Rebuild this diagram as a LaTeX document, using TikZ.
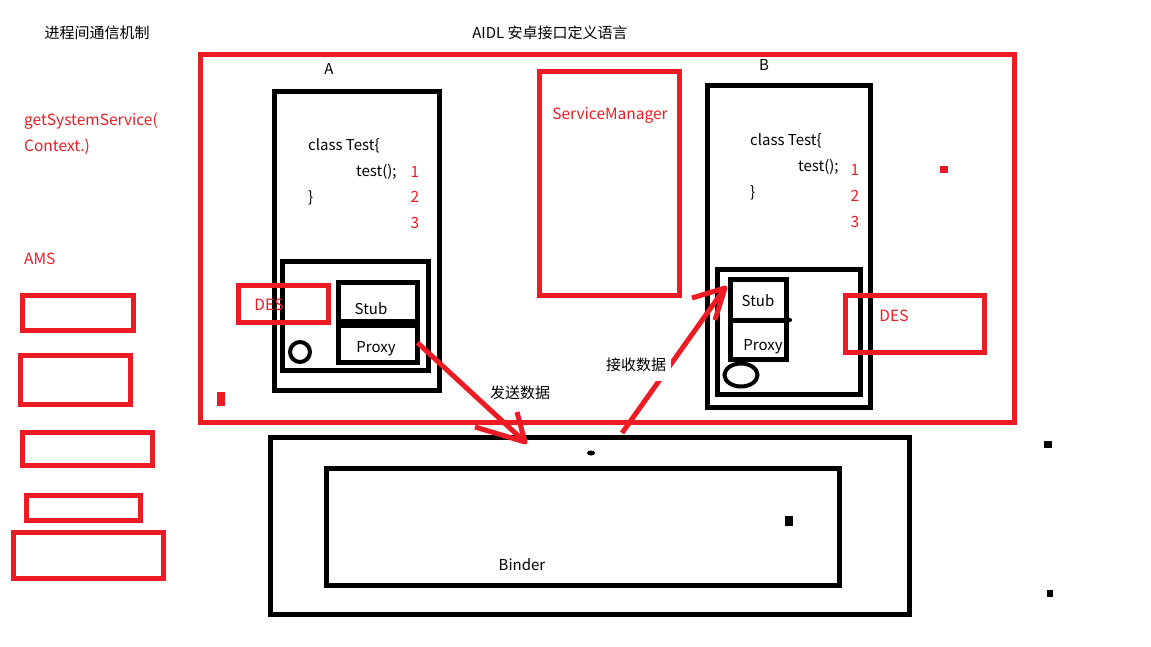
\documentclass[tikz,border=0pt]{standalone}
\usepackage{fontspec}
\usetikzlibrary{shapes.geometric}
\setmainfont{Noto Sans CJK SC}
\definecolor{pred}{RGB}{237,28,36}
\begin{document}
\begin{tikzpicture}[x=1pt,y=-1pt,
  box/.style={draw=black,line width=5pt,minimum width=#1,inner sep=0pt,outer sep=0pt},
  rbox/.style={draw=pred,line width=5pt,minimum width=#1,inner sep=0pt,outer sep=0pt},
  txt/.style={font=\fontsize{15}{15}\selectfont,inner sep=0pt,text=black},
  rtxt/.style={font=\fontsize{15.5}{15.5}\selectfont,inner sep=0pt,text=pred},
  rarrow/.style={draw=pred,line width=5pt,line join=round},
  blk/.style={fill=black,draw=none,inner sep=0pt,outer sep=0pt}]
\useasboundingbox[fill=white] (0,0) rectangle (1151,647);

% titles
\node[txt] (t1) at (97,33) {进程间通信机制};
\node[txt] (t2) at (550,33) {AIDL 安卓接口定义语言};

% left side
\node[rtxt,anchor=west] (gss) at (24,121) {getSystemService(};
\node[rtxt,anchor=west] (ctx) at (24,147) {Context.)};
\node[rtxt,anchor=west] (ams) at (24,259) {AMS};
\node[rbox=111pt,minimum height=35pt] (l1) at (78,313) {};
\node[rbox=110pt,minimum height=49pt] (l2) at (75.5,380) {};
\node[rbox=130pt,minimum height=33pt] (l3) at (87.5,449) {};
\node[rbox=114pt,minimum height=24.5pt] (l4) at (83.5,507.75) {};
\node[rbox=150pt,minimum height=46pt] (l5) at (88.5,555.5) {};

% process A
\node[txt] (la) at (329,69) {A};
\node[box=165pt,minimum height=299pt] (boxA) at (357,241) {};
\node[box=145.5pt,minimum height=109pt] (innA) at (355.25,316) {};
\node[box=79pt,minimum height=40.5pt] (stubA) at (378,302.75) {};
\node[box=79pt,minimum height=39.5pt] (proxyA) at (378,342.75) {};
\draw[line width=9pt] (stubA.south west) -- (stubA.south east);
\node[txt] (stubAt) at (371,309) {Stub};
\node[txt] (proxyAt) at (376,349) {Proxy};
\node[draw=black,line width=4pt,circle,minimum size=20pt,inner sep=0pt] (cirA) at (300,352) {};
\node[txt,anchor=west] (c1A) at (308,146) {class Test\{};
\node[txt,anchor=west] (c2A) at (356,172) {test();};
\node[txt,anchor=west] (c3A) at (308,198) {\}};
\node[rtxt] (n1A) at (415,172) {1};
\node[rtxt] (n2A) at (415,197) {2};
\node[rtxt] (n3A) at (415,223) {3};

% process B
\node[txt] (lb) at (764,65) {B};
\node[box=163pt,minimum height=322pt] (boxB) at (789,246.5) {};
\node[box=143.5pt,minimum height=125pt] (innB) at (788.75,332) {};
\node[box=55.5pt,minimum height=40.5pt] (stubB) at (758.25,299.75) {};
\node[box=55.5pt,minimum height=39pt] (proxyB) at (758.25,339.5) {};
\coordinate (dotB) at (790,320);
\draw[line width=4pt,line cap=round] (stubB.south west) -- (dotB);
\node[txt] (stubBt) at (758,301) {Stub};
\node[txt] (proxyBt) at (763,347) {Proxy};
\node[draw=black,line width=4pt,ellipse,minimum width=33pt,minimum height=23pt,inner sep=0pt] (ellB) at (741,375) {};
\node[txt,anchor=west] (c1B) at (750,141) {class Test\{};
\node[txt,anchor=west] (c2B) at (798,167) {test();};
\node[txt,anchor=west] (c3B) at (750,193) {\}};
\node[rtxt] (n1B) at (855,170) {1};
\node[rtxt] (n2B) at (855,196) {2};
\node[rtxt] (n3B) at (855,222) {3};

% binder
\node[box=639.5pt,minimum height=177pt] (binderO) at (589.75,526) {};
\node[box=513pt,minimum height=117pt] (binderI) at (582.5,526.5) {};
\node[txt] (bt) at (522,565) {Binder};
\node[blk,ellipse,minimum width=8pt,minimum height=5pt] (d1) at (591,453) {};
\node[blk,minimum width=8pt,minimum height=10pt] (d2) at (789,521) {};
\node[blk,minimum width=8pt,minimum height=7pt] (d3) at (1048,444) {};
\node[blk,minimum width=6pt,minimum height=7pt] (d4) at (1050,593) {};

% red frame and red items
\node[rbox=813.5pt,minimum height=367.5pt] (frame) at (607.25,238.25) {};
\node[rbox=140pt,minimum height=224pt] (sm) at (609.5,183.5) {};
\node[rtxt] (smt) at (610,115) {ServiceManager};
\node[rbox=90pt,minimum height=36.5pt] (desA) at (283.5,303.75) {};
\node[rtxt] (desAt) at (269,305) {DES};
\node[rbox=139.5pt,minimum height=57.5pt] (desB) at (914.75,323.75) {};
\node[rtxt] (desBt) at (894,316) {DES};
\node[fill=pred,inner sep=0pt,minimum width=8pt,minimum height=7pt] (r1) at (944,170) {};
\node[fill=pred,inner sep=0pt,minimum width=8pt,minimum height=14pt] (r2) at (221,399) {};

% arrows
\coordinate (sendTip) at (525,442);
\coordinate (sendH1) at (475,427);
\coordinate (sendH2) at (517,412);
\draw[rarrow] (proxyA.east) -- (sendTip);
\draw[rarrow] (sendH1) -- (sendTip) -- (sendH2);
\node[txt] (sendL) at (520,393) {发送数据};

\coordinate (recvStart) at (622,433);
\coordinate (recvTip) at (725,288);
\coordinate (recvH1) at (692,298);
\coordinate (recvH2) at (715,320);
\draw[rarrow] (recvStart) -- (recvTip);
\draw[rarrow] (recvH1) -- (recvTip) -- (recvH2);
\node[txt,fill=white,inner xsep=5pt,inner ysep=9pt] (recvL) at (636,365) {接收数据};
\end{tikzpicture}
\end{document}
